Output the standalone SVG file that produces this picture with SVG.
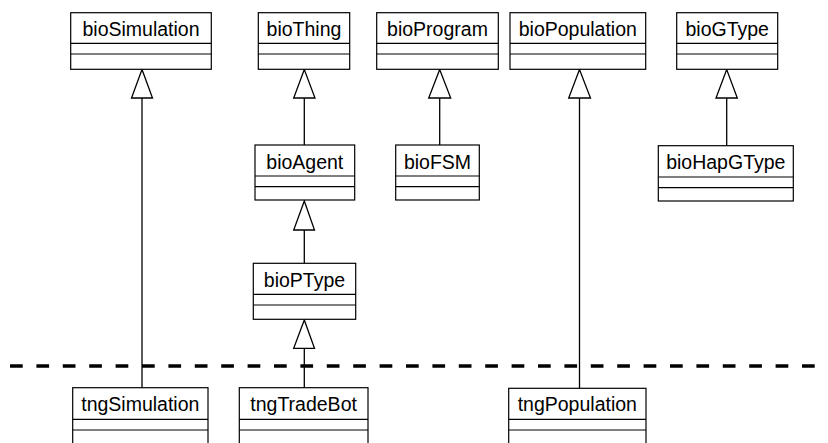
<svg xmlns="http://www.w3.org/2000/svg" width="828" height="443" viewBox="0 0 828 443">
<defs>
<style>
.box{fill:#fff;stroke:#000;stroke-width:1.2}
.div{stroke:#000;stroke-width:1.2}
.lbl{font-family:"Liberation Sans",Arial,sans-serif;font-size:19.5px;fill:#000;text-anchor:middle}
.ln{stroke:#000;stroke-width:1.3;fill:none}
.tri{fill:#fff;stroke:#000;stroke-width:1.3}
</style>
</defs>
<rect width="828" height="443" fill="#fff"/>
<g id="separator">
<line x1="10" y1="366" x2="828" y2="366" stroke="#000" stroke-width="3.5" stroke-dasharray="12.7 13.7"/>
</g>
<g id="connectors">
<line class="ln" x1="142" y1="98" x2="142" y2="388"/>
<polygon class="tri" points="142,69.5 131.5,98 152.5,98"/>
<line class="ln" x1="304.3" y1="98" x2="304.3" y2="145"/>
<polygon class="tri" points="304.3,69.5 293.7,98 315,98"/>
<line class="ln" x1="304.3" y1="230" x2="304.3" y2="263.3"/>
<polygon class="tri" points="304.3,201 293.7,230 314.5,230"/>
<line class="ln" x1="304.3" y1="348.3" x2="304.3" y2="388"/>
<polygon class="tri" points="304.3,320 293.7,348.3 314.5,348.3"/>
<line class="ln" x1="439.7" y1="98" x2="439.7" y2="145"/>
<polygon class="tri" points="439.7,69.5 428.7,98 450.7,98"/>
<line class="ln" x1="579.5" y1="98" x2="579.5" y2="388.3"/>
<polygon class="tri" points="579.5,69.5 568.7,98 590.5,98"/>
<line class="ln" x1="726.7" y1="98" x2="726.7" y2="145.7"/>
<polygon class="tri" points="726.7,69.5 716,98 737.3,98"/>
</g>
<g id="bioSimulation">
<rect class="box" x="70.7" y="12.7" width="140.6" height="56.6"/>
<line class="div" x1="70.7" y1="43.3" x2="211.3" y2="43.3"/>
<line class="div" x1="70.7" y1="54" x2="211.3" y2="54"/>
<text class="lbl" x="141" y="36">bioSimulation</text>
</g>
<g id="bioThing">
<rect class="box" x="258.3" y="12.7" width="91.4" height="56.6"/>
<line class="div" x1="258.3" y1="43.3" x2="349.7" y2="43.3"/>
<line class="div" x1="258.3" y1="54" x2="349.7" y2="54"/>
<text class="lbl" x="304" y="36">bioThing</text>
</g>
<g id="bioProgram">
<rect class="box" x="376.7" y="12.7" width="121.6" height="56.6"/>
<line class="div" x1="376.7" y1="43.3" x2="498.3" y2="43.3"/>
<line class="div" x1="376.7" y1="54" x2="498.3" y2="54"/>
<text class="lbl" x="437.5" y="36">bioProgram</text>
</g>
<g id="bioPopulation">
<rect class="box" x="510" y="12.7" width="135.7" height="56.6"/>
<line class="div" x1="510" y1="43.3" x2="645.7" y2="43.3"/>
<line class="div" x1="510" y1="54" x2="645.7" y2="54"/>
<text class="lbl" x="577.8" y="36">bioPopulation</text>
</g>
<g id="bioGType">
<rect class="box" x="676.7" y="12.7" width="101" height="56.6"/>
<line class="div" x1="676.7" y1="43.3" x2="777.7" y2="43.3"/>
<line class="div" x1="676.7" y1="54" x2="777.7" y2="54"/>
<text class="lbl" x="727.2" y="36">bioGType</text>
</g>
<g id="bioAgent">
<rect class="box" x="255" y="145" width="99.7" height="55"/>
<line class="div" x1="255" y1="176" x2="354.7" y2="176"/>
<line class="div" x1="255" y1="186.7" x2="354.7" y2="186.7"/>
<text class="lbl" x="304.8" y="168.5">bioAgent</text>
</g>
<g id="bioFSM">
<rect class="box" x="395.7" y="145" width="83.6" height="55"/>
<line class="div" x1="395.7" y1="176" x2="479.3" y2="176"/>
<line class="div" x1="395.7" y1="186.7" x2="479.3" y2="186.7"/>
<text class="lbl" x="437.5" y="168.5">bioFSM</text>
</g>
<g id="bioHapGType">
<rect class="box" x="658.3" y="145.7" width="135" height="55.3"/>
<line class="div" x1="658.3" y1="177" x2="793.3" y2="177"/>
<line class="div" x1="658.3" y1="187.7" x2="793.3" y2="187.7"/>
<text class="lbl" x="725.8" y="169">bioHapGType</text>
</g>
<g id="bioPType">
<rect class="box" x="253.3" y="263.3" width="102.4" height="56"/>
<line class="div" x1="253.3" y1="294.3" x2="355.7" y2="294.3"/>
<line class="div" x1="253.3" y1="305" x2="355.7" y2="305"/>
<text class="lbl" x="304.5" y="287">bioPType</text>
</g>
<g id="tngSimulation">
<rect class="box" x="72.7" y="387.7" width="135.3" height="70"/>
<line class="div" x1="72.7" y1="419.3" x2="208" y2="419.3"/>
<line class="div" x1="72.7" y1="430" x2="208" y2="430"/>
<text class="lbl" x="140.3" y="411">tngSimulation</text>
</g>
<g id="tngTradeBot">
<rect class="box" x="239.3" y="387.7" width="128.7" height="70"/>
<line class="div" x1="239.3" y1="419.3" x2="368" y2="419.3"/>
<line class="div" x1="239.3" y1="430" x2="368" y2="430"/>
<text class="lbl" x="303.6" y="411">tngTradeBot</text>
</g>
<g id="tngPopulation">
<rect class="box" x="508.7" y="388.3" width="137.3" height="70"/>
<line class="div" x1="508.7" y1="419.3" x2="646" y2="419.3"/>
<line class="div" x1="508.7" y1="430" x2="646" y2="430"/>
<text class="lbl" x="577.3" y="411">tngPopulation</text>
</g>
</svg>
